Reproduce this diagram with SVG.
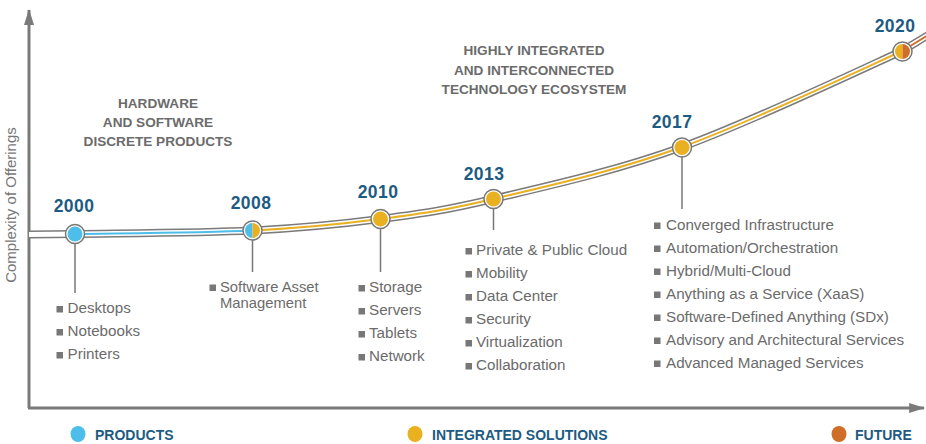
<svg xmlns="http://www.w3.org/2000/svg" width="926" height="444" viewBox="0 0 926 444">
<style>
.year{font-family:"Liberation Sans",Arial,sans-serif;font-weight:bold;font-size:17.5px;fill:#1d5b82;text-anchor:middle;letter-spacing:0.4px}
.head{font-family:"Liberation Sans",Arial,sans-serif;font-weight:bold;font-size:13.6px;fill:#6b6b6b;text-anchor:middle}
.item{font-family:"Liberation Sans",Arial,sans-serif;font-size:15.2px;fill:#6b6b6b}
.leg{font-family:"Liberation Sans",Arial,sans-serif;font-weight:bold;font-size:14px;fill:#1d5b82}
.axlab{font-family:"Liberation Sans",Arial,sans-serif;font-size:15px;fill:#777}
.drop{stroke:#777;stroke-width:1.5;fill:none}
.bul{fill:#777}
.ring{fill:#fff;stroke:#777;stroke-width:1.5}
</style>
<defs>
<marker id="arr" viewBox="0 0 16 10" refX="15" refY="5" markerWidth="5.3" markerHeight="3.6" orient="auto" markerUnits="strokeWidth">
<path d="M0,0 L16,5 L0,10 z" fill="#7a7a7a"/>
</marker>
</defs>

<g id="axes">
<path d="M29,408 L29,10" stroke="#7a7a7a" stroke-width="3" fill="none" marker-end="url(#arr)"/>
<path d="M28,408 L924,408" stroke="#7a7a7a" stroke-width="3" fill="none" marker-end="url(#arr)"/>
<text class="axlab" transform="translate(16,205) rotate(-90)" text-anchor="middle">Complexity of Offerings</text>
</g>

<g id="connectors">
<path id="curve" d="M29,234.5 L75,234 C112.2,233.3 201.2,233 252,230.5 C302.8,228 339.8,224.25 380,219 C420.2,213.75 442.7,211 493,199 C543.3,187 613.8,171.7 682,147 C750.2,122.3 860.7,69.8 902,51 C911.3,45.3 920.7,39.7 930,34" fill="none" stroke="#7a7a7a" stroke-width="8"/>
<path d="M29,234.5 L75,234 C112.2,233.3 201.2,233 252,230.5 C302.8,228 339.8,224.25 380,219 C420.2,213.75 442.7,211 493,199 C543.3,187 613.8,171.7 682,147 C750.2,122.3 860.7,69.8 902,51 C911.3,45.3 920.7,39.7 930,34" fill="none" stroke="#fff" stroke-width="5"/>
<path d="M75,234 C112.2,233.3 201.2,233 252,230.5" fill="none" stroke="#4dbde9" stroke-width="2"/>
<path d="M252,230.5 C302.8,228 339.8,224.25 380,219 C420.2,213.75 442.7,211 493,199 C543.3,187 613.8,171.7 682,147 C750.2,122.3 860.7,69.8 902,51" fill="none" stroke="#e9b020" stroke-width="2"/>
<path d="M902,51 C911.3,45.3 920.7,39.7 930,34" fill="none" stroke="#cf6f27" stroke-width="2"/>
<line class="drop" x1="75" y1="243" x2="75" y2="293"/>
<line class="drop" x1="252.5" y1="240" x2="252.5" y2="272"/>
<line class="drop" x1="380.5" y1="228" x2="380.5" y2="272"/>
<line class="drop" x1="493.5" y1="208" x2="493.5" y2="230"/>
<line class="drop" x1="682" y1="157" x2="682" y2="209"/>
</g>

<g id="headings">
<text class="head" x="158" y="108">HARDWARE</text>
<text class="head" x="158" y="127">AND SOFTWARE</text>
<text class="head" x="158" y="146">DISCRETE PRODUCTS</text>
<text class="head" x="534" y="55">HIGHLY INTEGRATED</text>
<text class="head" x="534" y="74.5">AND INTERCONNECTED</text>
<text class="head" x="534" y="94">TECHNOLOGY ECOSYSTEM</text>
</g>

<g id="node-2000">
<circle class="ring" cx="75" cy="234" r="9.5"/>
<circle cx="75" cy="234" r="7.5" fill="#4dbde9"/>
<text class="year" x="74" y="212">2000</text>
<rect class="bul" x="56.5" y="306" width="6.5" height="6.5"/>
<text class="item" x="67.5" y="313">Desktops</text>
<rect class="bul" x="56.5" y="329" width="6.5" height="6.5"/>
<text class="item" x="67.5" y="336">Notebooks</text>
<rect class="bul" x="56.5" y="352" width="6.5" height="6.5"/>
<text class="item" x="67.5" y="359">Printers</text>
</g>

<g id="node-2008">
<circle class="ring" cx="252.5" cy="230.5" r="9.5"/>
<path d="M252.5,223 A7.5,7.5 0 0 0 252.5,238 Z" fill="#4dbde9"/>
<path d="M252.5,223 A7.5,7.5 0 0 1 252.5,238 Z" fill="#e9b020"/>
<text class="year" x="251" y="209">2008</text>
<rect class="bul" x="209.5" y="284.5" width="6.5" height="6.5"/>
<text class="item" x="220" y="291.5" style="font-size:14.8px">Software Asset</text>
<text class="item" x="220" y="307.5" style="font-size:14.8px">Management</text>
</g>

<g id="node-2010">
<circle class="ring" cx="380.5" cy="219" r="9.5"/>
<circle cx="380.5" cy="219" r="7.5" fill="#e9b020"/>
<text class="year" x="378" y="198">2010</text>
<rect class="bul" x="358.5" y="285" width="6.5" height="6.5"/>
<text class="item" x="369" y="292">Storage</text>
<rect class="bul" x="358.5" y="308" width="6.5" height="6.5"/>
<text class="item" x="369" y="315">Servers</text>
<rect class="bul" x="358.5" y="331" width="6.5" height="6.5"/>
<text class="item" x="369" y="338">Tablets</text>
<rect class="bul" x="358.5" y="354" width="6.5" height="6.5"/>
<text class="item" x="369" y="361">Network</text>
</g>

<g id="node-2013">
<circle class="ring" cx="493.5" cy="199" r="9.5"/>
<circle cx="493.5" cy="199" r="7.5" fill="#e9b020"/>
<text class="year" x="484" y="180">2013</text>
<rect class="bul" x="465.5" y="248" width="6.5" height="6.5"/>
<text class="item" x="476" y="255">Private &amp; Public Cloud</text>
<rect class="bul" x="465.5" y="271" width="6.5" height="6.5"/>
<text class="item" x="476" y="278">Mobility</text>
<rect class="bul" x="465.5" y="294" width="6.5" height="6.5"/>
<text class="item" x="476" y="301">Data Center</text>
<rect class="bul" x="465.5" y="317" width="6.5" height="6.5"/>
<text class="item" x="476" y="324">Security</text>
<rect class="bul" x="465.5" y="340" width="6.5" height="6.5"/>
<text class="item" x="476" y="347">Virtualization</text>
<rect class="bul" x="465.5" y="363" width="6.5" height="6.5"/>
<text class="item" x="476" y="370">Collaboration</text>
</g>

<g id="node-2017">
<circle class="ring" cx="682" cy="147.5" r="9.5"/>
<circle cx="682" cy="147.5" r="7.5" fill="#e9b020"/>
<text class="year" x="672" y="128">2017</text>
<rect class="bul" x="654" y="222.5" width="6.5" height="6.5"/>
<text class="item" x="666" y="229.5">Converged Infrastructure</text>
<rect class="bul" x="654" y="245.5" width="6.5" height="6.5"/>
<text class="item" x="666" y="252.5">Automation/Orchestration</text>
<rect class="bul" x="654" y="268.5" width="6.5" height="6.5"/>
<text class="item" x="666" y="275.5">Hybrid/Multi-Cloud</text>
<rect class="bul" x="654" y="291.5" width="6.5" height="6.5"/>
<text class="item" x="666" y="298.5">Anything as a Service (XaaS)</text>
<rect class="bul" x="654" y="314.5" width="6.5" height="6.5"/>
<text class="item" x="666" y="321.5">Software-Defined Anything (SDx)</text>
<rect class="bul" x="654" y="337.5" width="6.5" height="6.5"/>
<text class="item" x="666" y="344.5">Advisory and Architectural Services</text>
<rect class="bul" x="654" y="360.5" width="6.5" height="6.5"/>
<text class="item" x="666" y="367.5">Advanced Managed Services</text>
</g>

<g id="node-2020">
<circle class="ring" cx="902.5" cy="51.5" r="9.5"/>
<path d="M902.5,44 A7.5,7.5 0 0 0 902.5,59 Z" fill="#e9b020"/>
<path d="M902.5,44 A7.5,7.5 0 0 1 902.5,59 Z" fill="#cf6f27"/>
<text class="year" x="895" y="32">2020</text>
</g>

<g id="legend">
<ellipse cx="78" cy="434" rx="7.5" ry="8" fill="#4dbde9"/>
<text class="leg" x="95" y="439.5">PRODUCTS</text>
<ellipse cx="415" cy="434" rx="7.5" ry="8" fill="#e9b020"/>
<text class="leg" x="432" y="439.5">INTEGRATED SOLUTIONS</text>
<ellipse cx="839" cy="434" rx="7.5" ry="8" fill="#cf6f27"/>
<text class="leg" x="855" y="439.5">FUTURE</text>
</g>
</svg>
